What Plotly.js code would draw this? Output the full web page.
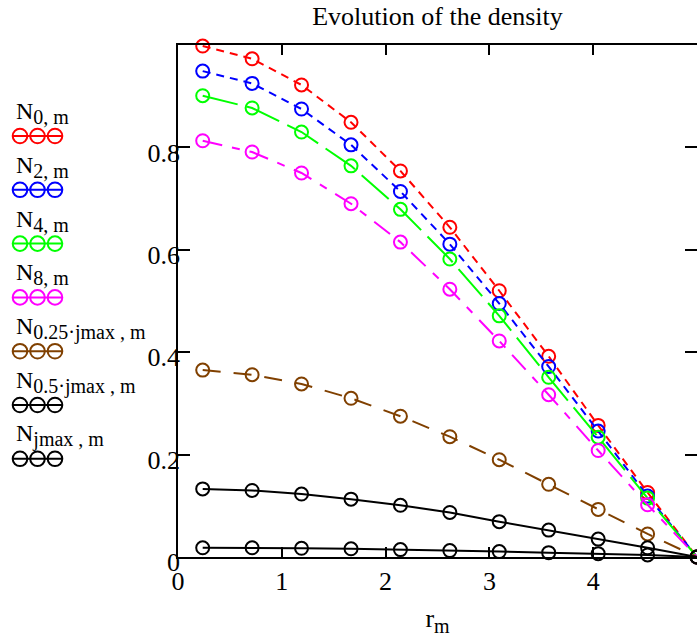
<!DOCTYPE html>
<html>
<head>
<meta charset="utf-8">
<script src="https://cdn.plot.ly/plotly-3.0.1.min.js"></script>
<style>
html,body{margin:0;padding:0;overflow:hidden;background:#fff;}
#chart{width:700px;height:637px;}
</style>
</head>
<body>
<div id="chart"></div>
<script>
// ---- data ----
const r_m = [0.238, 0.714, 1.190, 1.667, 2.143, 2.619, 3.095, 3.571, 4.048, 4.524, 5.0];
const N_0 = [0.998, 0.973, 0.922, 0.849, 0.754, 0.644, 0.520, 0.392, 0.257, 0.126, 0];
const N_2 = [0.949, 0.925, 0.875, 0.805, 0.714, 0.611, 0.495, 0.372, 0.246, 0.119, 0];
const N_4 = [0.901, 0.877, 0.830, 0.764, 0.679, 0.582, 0.471, 0.351, 0.234, 0.115, 0];
const N_8 = [0.813, 0.791, 0.750, 0.690, 0.615, 0.523, 0.422, 0.317, 0.208, 0.102, 0];
const N_q = [0.365, 0.356, 0.338, 0.310, 0.275, 0.235, 0.190, 0.142, 0.093, 0.045, 0];
const N_h = [0.133, 0.130, 0.123, 0.113, 0.101, 0.087, 0.069, 0.0525, 0.035, 0.018, 0];
const N_j = [0.018, 0.018, 0.017, 0.016, 0.0145, 0.0125, 0.0105, 0.0085, 0.0065, 0.004, 0];

const seriesSubs = ['0, m', '2, m', '4, m', '8, m', '0.25·jmax , m', '0.5·jmax , m', 'jmax , m'];
const seriesValues = [N_0, N_2, N_4, N_8, N_q, N_h, N_j];
const xTicks = [0, 1, 2, 3, 4];
const yTicks = [0, 0.2, 0.4, 0.6, 0.8];
const yTickText = ['0', '0.2', '0.4', '0.6', '0.8'];
const titleText = 'Evolution of the density';
const xTitle = 'r<sub><span style="font-size:20px">m</span></sub>';

// ---- styles ----
const colors = ['#ff0000', '#0000ff', '#00ff00', '#ff00ff', '#804000', '#000000', '#000000'];
const dashes = ['8px,6px', '8px,6px', '36px,9px', '20px,10px,8px,10px', '18px,13px', 'solid', 'solid'];
const FONT = 'Liberation Serif, Times New Roman, serif';

const W = 700, H = 637;
const M = {l: 178, r: 3, t: 45, b: 80};
const PW = W - M.l - M.r, PH = H - M.t - M.b;
const px2x = px => (px - M.l) / PW;
const py2y = py => (H - M.b - py) / PH;

const traces = seriesValues.map((vals, i) => ({
  x: r_m, y: vals, type: 'scatter', mode: 'lines+markers',
  name: 'N ' + seriesSubs[i],
  xaxis: 'x', yaxis: (i === seriesValues.length - 1) ? 'y2' : 'y',
  line: {color: colors[i], width: 2, dash: dashes[i]},
  marker: {symbol: 'circle-open', size: 13, color: colors[i], line: {width: 2, color: colors[i]}},
  cliponaxis: false
}));

const annotations = [];
const shapes = [];
const rowY0 = 136, rowStep = 53.8;
seriesSubs.forEach((sub, i) => {
  const cy = rowY0 + rowStep * i;
  annotations.push({
    text: 'N<sub><span style="font-size:20px">' + sub + '</span></sub>',
    xref: 'paper', yref: 'paper', x: px2x(14), y: py2y(cy - 23),
    xanchor: 'left', yanchor: 'middle', showarrow: false,
    font: {family: FONT, size: 24, color: '#000'}
  });
  const rad = 7.3;
  [20, 37.5, 55].forEach(cx => {
    shapes.push({type: 'circle', xref: 'paper', yref: 'paper',
      x0: px2x(cx - rad), x1: px2x(cx + rad), y0: py2y(cy + rad), y1: py2y(cy - rad),
      line: {color: colors[i], width: 2}, fillcolor: 'rgba(0,0,0,0)'});
  });
  shapes.push({type: 'line', xref: 'paper', yref: 'paper',
    x0: px2x(13), x1: px2x(62), y0: py2y(cy), y1: py2y(cy),
    line: {color: colors[i], width: 2}});
});

const layout = {
  width: W, height: H,
  margin: M,
  paper_bgcolor: '#fff', plot_bgcolor: '#fff',
  showlegend: false,
  font: {family: FONT, size: 26, color: '#000'},
  title: {text: titleText, font: {family: FONT, size: 26, color: '#000'},
    x: px2x(437.5), xref: 'paper', xanchor: 'center', y: 1 - 16 / H, yref: 'container', yanchor: 'middle'},
  xaxis: {
    range: [0, 5], tickvals: xTicks, ticktext: xTicks.map(String),
    ticks: 'inside', ticklen: 10, tickwidth: 2, tickcolor: '#000',
    showline: true, linewidth: 2, linecolor: '#000', mirror: 'ticks',
    showgrid: false, zeroline: false,
    tickfont: {family: FONT, size: 26, color: '#000'},
    title: {text: xTitle, font: {family: FONT, size: 26, color: '#000'}, standoff: 14}
  },
  yaxis: {
    range: [0, 1], tickvals: yTicks,
    ticks: 'inside', ticklen: 12, tickwidth: 2, tickcolor: '#000',
    showline: true, linewidth: 2, linecolor: '#000', mirror: 'ticks',
    showgrid: false, zeroline: false, showticklabels: false
  },
  yaxis2: {
    overlaying: 'y', matches: 'y', anchor: 'free', position: 2 / PW, side: 'left',
    tickvals: yTicks, ticktext: yTickText,
    ticks: '', showline: false, showgrid: false, zeroline: false,
    ticklabelshift: 5,
    tickfont: {family: FONT, size: 26, color: '#000'}
  },
  annotations: annotations,
  shapes: shapes
};

Plotly.newPlot('chart', traces, layout, {staticPlot: true, displayModeBar: false});
</script>
</body>
</html>
